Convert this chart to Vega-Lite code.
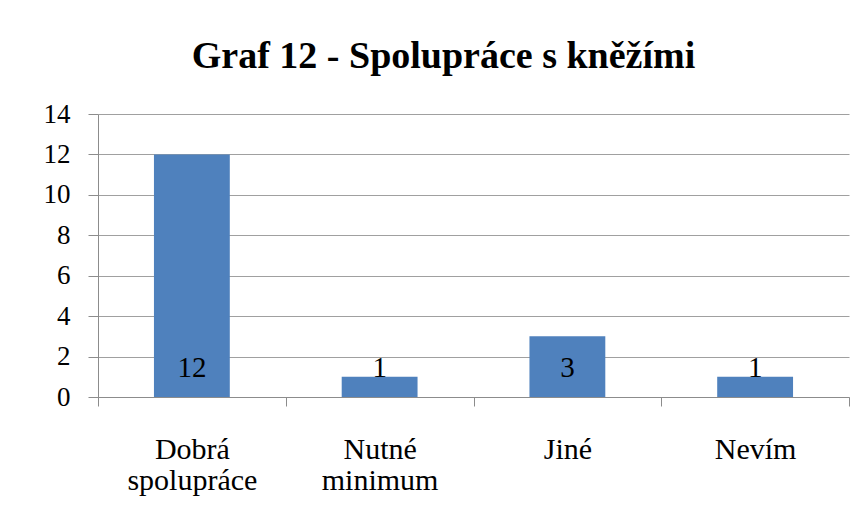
{
  "$schema": "https://vega.github.io/schema/vega-lite/v6.json",
  "width": 751,
  "height": 283,
  "autosize": {"type": "none"},
  "padding": {"left": 98, "top": 114, "right": 15, "bottom": 124},
  "background": "white",
  "title": {
    "text": "Graf 12 - Spolupráce s kněžími",
    "font": "Liberation Serif",
    "fontSize": 38,
    "fontWeight": "bold",
    "color": "black",
    "anchor": "middle",
    "frame": "group",
    "offset": 24,
    "dx": -30
  },
  "data": {
    "values": [
      {"kategorie": "Dobrá|spolupráce", "pocet": 12},
      {"kategorie": "Nutné|minimum", "pocet": 1},
      {"kategorie": "Jiné", "pocet": 3},
      {"kategorie": "Nevím", "pocet": 1}
    ]
  },
  "config": {
    "view": {"stroke": null}
  },
  "encoding": {
    "x": {
      "field": "kategorie",
      "type": "nominal",
      "sort": null,
      "scale": {"paddingInner": 0, "paddingOuter": 0},
      "axis": {
        "title": null,
        "labelAngle": 0,
        "labelExpr": "split(datum.label, '|')",
        "labelFont": "Liberation Serif",
        "labelFontSize": 30,
        "labelColor": "black",
        "labelLineHeight": 31,
        "labelBaseline": "top",
        "labelPadding": 28,
        "tickBand": "extent",
        "tickSize": 9,
        "tickColor": "#8c8c8c",
        "domainColor": "#8c8c8c",
        "grid": false
      }
    }
  },
  "layer": [
    {
      "mark": {"type": "bar", "color": "#4F81BD", "width": {"band": 0.404}},
      "encoding": {
        "y": {
          "field": "pocet",
          "type": "quantitative",
          "scale": {"domain": [0, 14], "nice": false},
          "axis": {
            "title": null,
            "values": [0, 2, 4, 6, 8, 10, 12, 14],
            "labelFont": "Liberation Serif",
            "labelFontSize": 27,
            "labelColor": "black",
            "labelPadding": 18,
            "tickSize": 10,
            "tickColor": "#8c8c8c",
            "domainColor": "#8c8c8c",
            "gridColor": "#a0a0a0",
            "grid": true
          }
        }
      }
    },
    {
      "mark": {"type": "text", "font": "Liberation Serif", "fontSize": 29, "color": "black", "baseline": "alphabetic", "dy": -20},
      "encoding": {
        "y": {"datum": 0, "type": "quantitative"},
        "text": {"field": "pocet", "type": "quantitative"}
      }
    }
  ]
}
